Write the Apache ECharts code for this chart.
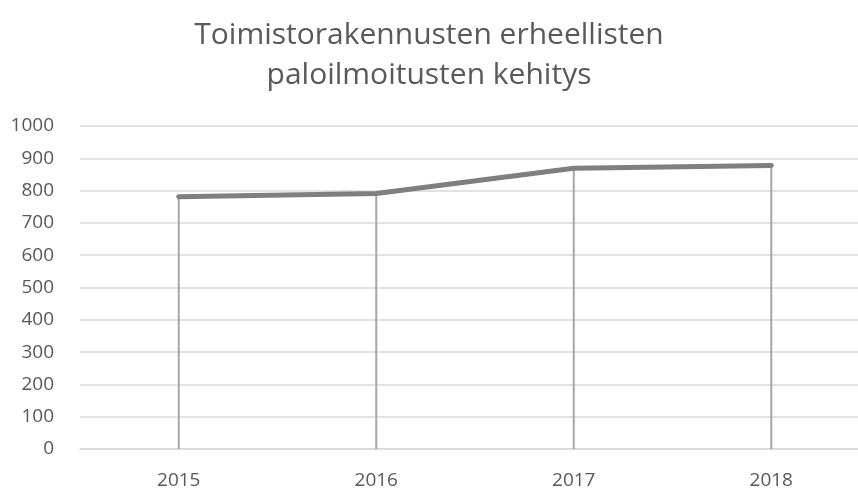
<!DOCTYPE html>
<html>
<head>
<meta charset="utf-8">
<script src="https://cdn.jsdelivr.net/npm/echarts@6/dist/echarts.min.js"></script>
<style>
  html, body { margin: 0; padding: 0; background: #fff; }
  #chart { width: 858px; height: 490px; }
</style>
</head>
<body>
<div id="chart"></div>
<script>
const years = ['2015', '2016', '2017', '2018'];
const alarms = [781, 791, 869, 878];

const chart = echarts.init(document.getElementById('chart'));
const font = '"Open Sans", "Liberation Sans", sans-serif';

chart.setOption({
  animation: false,
  title: {
    text: 'Toimistorakennusten erheellisten\npaloilmoitusten kehitys',
    left: 'center',
    top: 10,
    textStyle: {
      fontFamily: font,
      fontWeight: 'normal',
      fontSize: 30,
      color: '#595959',
      lineHeight: 40
    }
  },
  grid: { left: 80, right: -12, top: 126, bottom: 41, outerBoundsMode: 'none' },
  xAxis: {
    type: 'category',
    data: years,
    boundaryGap: true,
    axisLine: { lineStyle: { color: '#d9d9d9', width: 1.5 } },
    axisTick: { show: false },
    axisLabel: { fontFamily: font, fontSize: 19, color: '#595959', margin: 22 }
  },
  yAxis: {
    type: 'value',
    min: 0,
    max: 1000,
    interval: 100,
    axisLine: { show: false },
    axisTick: { show: false },
    splitLine: { lineStyle: { color: '#d9d9d9', width: 1.5 } },
    axisLabel: {
      fontFamily: font, fontSize: 19, color: '#595959', margin: 26,
      formatter: v => String(v)
    }
  },
  series: [
    {
      // drop lines from each point down to the axis
      type: 'bar',
      data: alarms,
      barWidth: 2,
      itemStyle: { color: '#a6a6a6' },
      silent: true,
      z: 1
    },
    {
      type: 'line',
      data: alarms,
      symbol: 'none',
      lineStyle: { color: '#7f7f7f', width: 5, cap: 'round', join: 'round' },
      z: 3
    }
  ]
});
</script>
</body>
</html>
